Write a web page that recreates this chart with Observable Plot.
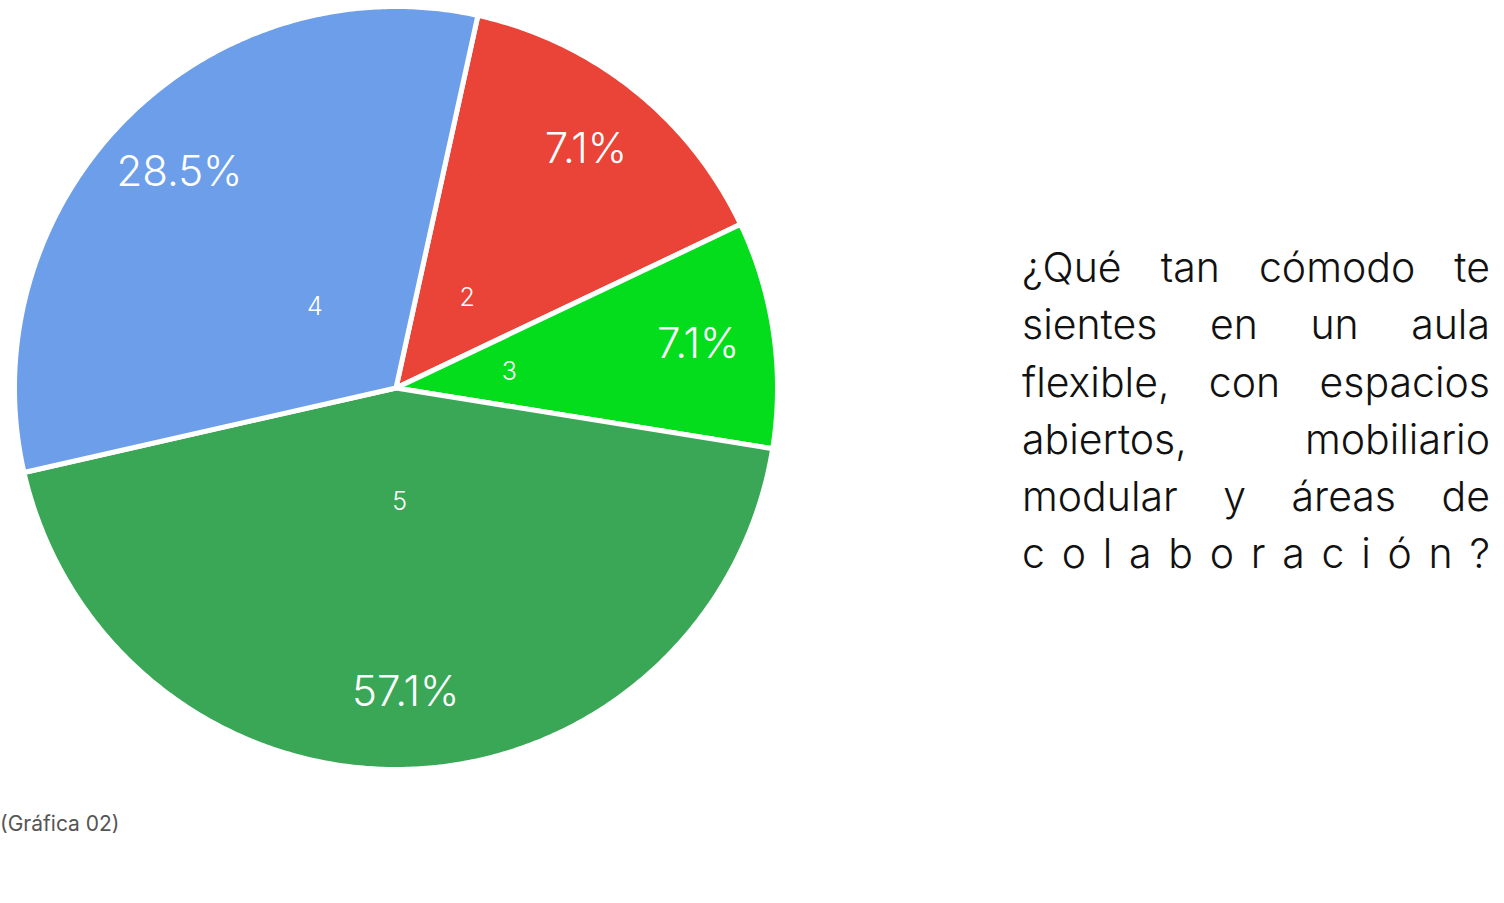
<!DOCTYPE html>
<html>
<head>
<meta charset="utf-8">
<script src="https://cdn.jsdelivr.net/npm/d3@7"></script>
<script src="https://cdn.jsdelivr.net/npm/@observablehq/plot@0.6"></script>
<style>
  html, body { margin: 0; padding: 0; background: #fff; }
  body { position: relative; width: 1504px; height: 903px; overflow: hidden; font-family: Inter, Roboto, "Noto Sans", sans-serif; }
  #chart { position: absolute; left: 0; top: 0; }
  #question { position: absolute; left: 1022px; top: 239px; width: 468px; font-size: 41px; font-weight: 300; line-height: 57.3px; color: #111; }
  #question .line { display: flex; justify-content: space-between; white-space: nowrap; }
  #caption { position: absolute; left: 0; top: 812px; font-size: 21px; line-height: 24px; color: #555; font-weight: 400; }
</style>
</head>
<body>
<div id="chart"></div>
<div id="question"></div>
<div id="caption"></div>
<script>
// ---- data (clockwise from the top) ----
const categories = ["2", "3", "5", "4"];
const shares = [14.5, 9.6, 43.9, 32.0];            // slice sizes as drawn
const percentLabels = ["7.1%", "7.1%", "57.1%", "28.5%"];
const colors = ["#ea4337", "#03dd1b", "#3aa757", "#6d9eea"];
const startDeg = 12.4;
const questionLines = ["¿Qué tan cómodo te", "sientes en un aula", "flexible, con espacios", "abiertos, mobiliario", "modular y áreas de", "colaboración?"];
const captionText = "(Gráfica 02)";

// ---- build slices ----
const rows = categories.map((c, i) => ({category: c, share: shares[i], pct: percentLabels[i]}));
const a0 = startDeg * Math.PI / 180;
const arcs = d3.pie().sort(null).value(d => d.share).startAngle(a0).endAngle(a0 + 2 * Math.PI)(rows);

const features = arcs.map(a => {
  const ring = [[0, 0]];
  const n = Math.max(2, Math.ceil((a.endAngle - a.startAngle) / (Math.PI / 360)));
  for (let k = 0; k <= n; k++) {
    const t = a.startAngle + (a.endAngle - a.startAngle) * k / n;
    ring.push([Math.sin(t), Math.cos(t)]);
  }
  ring.push([0, 0]);
  return {type: "Feature", properties: {category: a.data.category}, geometry: {type: "Polygon", coordinates: [ring]}};
});

const mid = a => (a.startAngle + a.endAngle) / 2;
const numLabels = arcs.map(a => ({x: 0.3 * Math.sin(mid(a)), y: 0.3 * Math.cos(mid(a)), text: a.data.category}));
const pctLabels = arcs.map(a => ({x: 0.8 * Math.sin(mid(a)), y: 0.8 * Math.cos(mid(a)), text: a.data.pct}));

const plot = Plot.plot({
  width: 800,
  height: 780,
  marginLeft: 14,
  marginTop: 6,
  marginRight: 23,
  marginBottom: 11,
  projection: {type: "reflect-y", domain: {type: "MultiPoint", coordinates: [[-1, -1], [1, 1]]}},
  color: {domain: categories, range: colors},
  style: {fontFamily: "Inter, Roboto, sans-serif", background: "white"},
  marks: [
    Plot.geo(features, {fill: d => d.properties.category, stroke: "white", strokeWidth: 5, strokeLinejoin: "round"}),
    Plot.text(numLabels, {x: "x", y: "y", text: "text", fill: "white", fontSize: 25, fontWeight: 300}),
    Plot.text(pctLabels, {x: "x", y: "y", text: "text", fill: "white", fontSize: 42, fontWeight: 300, style: "letter-spacing:-2px"})
  ]
});
document.getElementById("chart").appendChild(plot);

// ---- question text (justified lines) ----
const q = document.getElementById("question");
questionLines.forEach((line, i) => {
  const div = document.createElement("div");
  div.className = "line";
  const parts = i === questionLines.length - 1 ? Array.from(line) : line.split(" ");
  parts.forEach(p => { const s = document.createElement("span"); s.textContent = p; div.appendChild(s); });
  q.appendChild(div);
});
document.getElementById("caption").textContent = captionText;
</script>
</body>
</html>
